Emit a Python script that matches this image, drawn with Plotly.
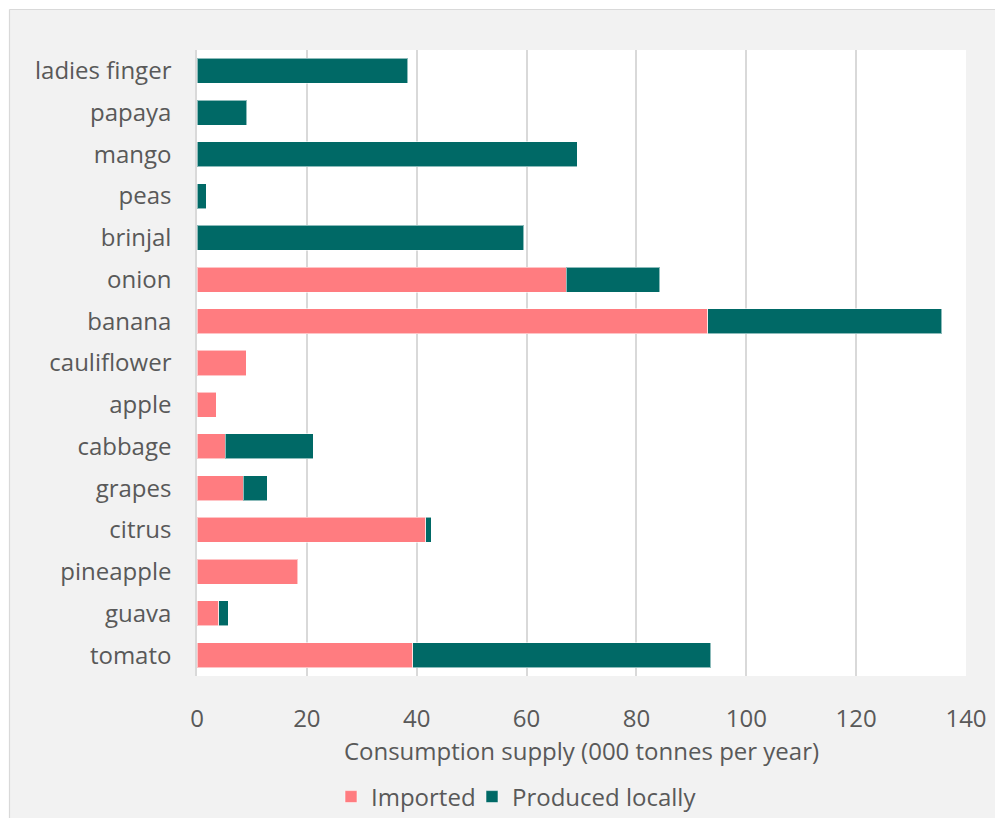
import plotly.graph_objects as go

# Consumption supply by crop, '000 tonnes per year (top to bottom)
crops = ["ladies finger", "papaya", "mango", "peas", "brinjal", "onion", "banana",
         "cauliflower", "apple", "cabbage", "grapes", "citrus", "pineapple", "guava", "tomato"]
imported = [None, None, None, None, None, 67.2, 93.0, 9.0, 3.5, 5.1, 8.4, 41.6, 18.3, 4.0, 39.3]
produced_locally = [38.4, 9.1, 69.2, 1.7, 59.5, 17.0, 42.6, None, None, 16.1, 4.4, 1.0, None, 1.7, 54.2]
x_ticks = [0, 20, 40, 60, 80, 100, 120, 140]

W, H = 995, 818
ML, MR, MT, MB = 197, W - 966, 50, H - 676
PW, PH = W - ML - MR, H - MT - MB

def px(x):
    return (x - ML) / PW

def py(y):
    return (H - MB - y) / PH

TEXT = "#595959"
GRID = "#d9d9d9"
FONT = "Open Sans"
FS = 24

fig = go.Figure()
fig.add_trace(go.Bar(
    y=crops, x=imported, name="Imported", orientation="h", legend="legend",
    marker=dict(color="#ff7c80", line=dict(color="rgba(255,255,255,0.55)", width=1)),
))
fig.add_trace(go.Bar(
    y=crops, x=produced_locally, name="Produced locally", orientation="h", legend="legend2",
    marker=dict(color="#006966", line=dict(color="rgba(255,255,255,0.55)", width=1)),
))

# outer frame: white margin, light border line
shapes = [
    dict(type="rect", xref="paper", yref="paper", x0=px(0), x1=px(W), y0=py(0), y1=py(9),
         fillcolor="white", line=dict(width=0), layer="above"),
    dict(type="rect", xref="paper", yref="paper", x0=px(0), x1=px(9), y0=py(0), y1=py(H),
         fillcolor="white", line=dict(width=0), layer="above"),
    dict(type="line", xref="paper", yref="paper", x0=px(9.5), x1=px(W), y0=py(9.5), y1=py(9.5),
         line=dict(color=GRID, width=1.2), layer="above"),
    dict(type="line", xref="paper", yref="paper", x0=px(9.5), x1=px(9.5), y0=py(9.5), y1=py(H),
         line=dict(color=GRID, width=1.2), layer="above"),
]

legend_style = dict(orientation="h", xanchor="left", y=py(797), yanchor="middle",
                    font=dict(size=FS, color=TEXT), bgcolor="rgba(0,0,0,0)", itemwidth=30)

fig.update_layout(
    width=W, height=H,
    margin=dict(l=ML, r=MR, t=MT, b=MB, pad=0, autoexpand=False),
    barmode="stack", bargap=0.4,
    paper_bgcolor="#f2f2f2", plot_bgcolor="white",
    font=dict(family=FONT, size=FS, color=TEXT),
    shapes=shapes,
    showlegend=True,
    legend=dict(x=px(331), **legend_style),
    legend2=dict(x=px(472), **legend_style),
    xaxis=dict(
        range=[0, 140], tickvals=x_ticks, ticktext=[str(v) for v in x_ticks],
        showgrid=True, gridcolor=GRID, gridwidth=1.5,
        zeroline=False, showline=False, automargin=False,
        ticks="outside", ticklen=21, tickcolor="rgba(0,0,0,0)",
        tickfont=dict(size=FS, color=TEXT),
        title=dict(text="Consumption supply (000 tonnes per year)",
                   font=dict(size=FS, color=TEXT), standoff=10),
        fixedrange=True,
    ),
    yaxis=dict(
        autorange="reversed", showgrid=False, zeroline=False, automargin=False,
        showline=True, linecolor=GRID, linewidth=1.5,
        ticks="outside", ticklen=19, tickcolor="rgba(0,0,0,0)",
        tickfont=dict(size=FS, color=TEXT),
    ),
)

fig.write_html("out.html")
